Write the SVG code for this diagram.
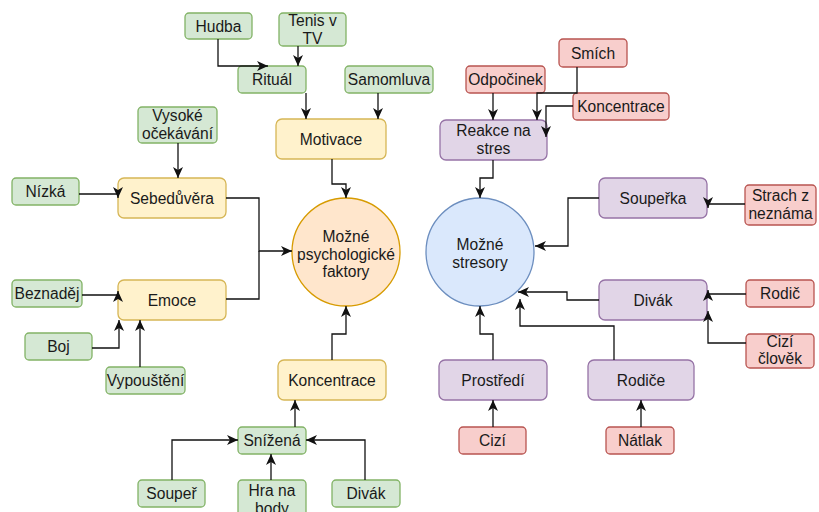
<svg xmlns="http://www.w3.org/2000/svg" width="819" height="512" viewBox="0 0 819 512">
<style>
rect{stroke-width:1.3}
.g{fill:#d5e8d4;stroke:#82b366}
.y{fill:#fff2cc;stroke:#d6b656}
.r{fill:#f8cecc;stroke:#b85450}
.p{fill:#e1d5e7;stroke:#9673a6}
text{font-family:"Liberation Sans",Arial,sans-serif;font-size:15.6px;fill:#1a1a1a;text-anchor:middle}
#edges path{fill:none;stroke:#111;stroke-width:1.3;marker-end:url(#a)}
#edges path.n{marker-end:none}
</style>
<defs>
<marker id="a" viewBox="0 0 11 10" refX="11" refY="5" markerWidth="11" markerHeight="10" markerUnits="userSpaceOnUse" orient="auto">
<path d="M0,0 L11,5 L0,10 L3,5 z" fill="#111"/>
</marker>
</defs>
<rect width="819" height="512" fill="#fff"/>

<g id="hudba"><rect class="g" x="185" y="13" width="67" height="26" rx="4"/><text x="218.5" y="31.5">Hudba</text></g>
<g id="tenis"><rect class="g" x="279" y="13" width="67" height="33" rx="4"/><text x="312.5" y="25.5">Tenis v</text><text x="312.5" y="43.5">TV</text></g>
<g id="ritual"><rect class="g" x="238" y="66" width="68" height="27" rx="4"/><text x="272" y="85">Rituál</text></g>
<g id="samomluva"><rect class="g" x="345" y="66" width="88" height="27" rx="4"/><text x="389" y="85">Samomluva</text></g>
<g id="vysoke"><rect class="g" x="138" y="107" width="79" height="36" rx="4"/><text x="177.5" y="121">Vysoké</text><text x="177.5" y="139">očekávání</text></g>
<g id="nizka"><rect class="g" x="12" y="178" width="67" height="27" rx="4"/><text x="45.5" y="197">Nízká</text></g>
<g id="beznadej"><rect class="g" x="12" y="280" width="70" height="27" rx="4"/><text x="47" y="299">Beznaděj</text></g>
<g id="boj"><rect class="g" x="25" y="333" width="67" height="27" rx="4"/><text x="58.5" y="352">Boj</text></g>
<g id="vypousteni"><rect class="g" x="106" y="367" width="79" height="27" rx="4"/><text x="145.5" y="386">Vypouštění</text></g>
<g id="snizena"><rect class="g" x="238" y="427" width="68" height="27" rx="4"/><text x="272" y="446">Snížená</text></g>
<g id="souper"><rect class="g" x="138" y="480" width="67" height="27" rx="4"/><text x="171.5" y="499">Soupeř</text></g>
<g id="hranabody"><rect class="g" x="238" y="480" width="68" height="38" rx="4"/><text x="272" y="496">Hra na</text><text x="272" y="514">body</text></g>
<g id="divak-green"><rect class="g" x="332" y="480" width="68" height="27" rx="4"/><text x="366" y="499">Divák</text></g>

<g id="motivace"><rect class="y" x="276" y="119" width="110" height="40" rx="6"/><text x="331" y="144.5">Motivace</text></g>
<g id="sebeduvera"><rect class="y" x="118" y="178" width="108" height="40" rx="6"/><text x="172" y="203.5">Sebedůvěra</text></g>
<g id="emoce"><rect class="y" x="118" y="280" width="108" height="40" rx="6"/><text x="172" y="305.5">Emoce</text></g>
<g id="koncentrace"><rect class="y" x="278" y="360" width="108" height="40" rx="6"/><text x="332" y="385.5">Koncentrace</text></g>

<g id="odpocinek"><rect class="r" x="466" y="66" width="79" height="27" rx="4"/><text x="505.5" y="85">Odpočinek</text></g>
<g id="smich"><rect class="r" x="559" y="39" width="68" height="28" rx="4"/><text x="593" y="58.5">Smích</text></g>
<g id="koncentrace-red"><rect class="r" x="573" y="93" width="96" height="27" rx="4"/><text x="621" y="112">Koncentrace</text></g>
<g id="strach"><rect class="r" x="745" y="185" width="71" height="40" rx="4"/><text x="780.5" y="201">Strach z</text><text x="780.5" y="219">neznáma</text></g>
<g id="rodic"><rect class="r" x="746" y="280" width="68" height="27" rx="4"/><text x="780" y="299">Rodič</text></g>
<g id="cizi-clovek"><rect class="r" x="746" y="334" width="68" height="34" rx="4"/><text x="780" y="347">Cizí</text><text x="780" y="364">člověk</text></g>
<g id="cizi"><rect class="r" x="459" y="427" width="67" height="27" rx="4"/><text x="492.5" y="446">Cizí</text></g>
<g id="natlak"><rect class="r" x="606" y="427" width="68" height="27" rx="4"/><text x="640" y="446">Nátlak</text></g>

<g id="reakce"><rect class="p" x="440" y="120" width="107" height="40" rx="6"/><text x="493.5" y="136">Reakce na</text><text x="493.5" y="154">stres</text></g>
<g id="souperka"><rect class="p" x="599" y="178" width="108" height="40" rx="6"/><text x="653" y="203.5">Soupeřka</text></g>
<g id="divak"><rect class="p" x="599" y="280" width="108" height="40" rx="6"/><text x="653" y="305.5">Divák</text></g>
<g id="prostredi"><rect class="p" x="439" y="360" width="108" height="40" rx="6"/><text x="493" y="385.5">Prostředí</text></g>
<g id="rodice"><rect class="p" x="588" y="360" width="106" height="40" rx="6"/><text x="641" y="385.5">Rodiče</text></g>

<g id="psych"><circle cx="346" cy="252" r="54" fill="#ffe6cc" stroke="#d79b00" stroke-width="1.3"/><text x="346" y="242">Možné</text><text x="346" y="259.5">psychologické</text><text x="346" y="277">faktory</text></g>
<g id="stresory"><circle cx="480" cy="252" r="54" fill="#dae8fc" stroke="#6c8ebf" stroke-width="1.3"/><text x="480" y="250">Možné</text><text x="480" y="268">stresory</text></g>

<g id="edges">
<path d="M218,39 V66 H268"/>
<path d="M298,46 V66"/>
<path d="M306,93 V119"/>
<path d="M378,93 V119"/>
<path d="M332,159 V184 H346 V198"/>
<path d="M178,143 V178"/>
<path d="M79,194 H118 V198"/>
<path d="M82,295 H118 V291"/>
<path d="M92,348 H119 V320"/>
<path d="M140,367 V320"/>
<path class="n" d="M226,299 H259 V251"/>
<path d="M226,198 H259 V251 H292"/>
<path d="M332,360 V334 H346 V306"/>
<path d="M295,427 V400"/>
<path d="M172,480 V440 H238"/>
<path d="M271,480 V454"/>
<path d="M365,480 V440 H306"/>
<path d="M493,93 V120"/>
<path d="M577,67 V93 H537 V120"/>
<path d="M573,106 H546 V137"/>
<path d="M493,160 V178 H480 V198"/>
<path d="M599,198 H568 V246 H535"/>
<path d="M745,204 H708 V208"/>
<path d="M599,300 H567 V292 H518"/>
<path d="M614,360 V326 H520 V299"/>
<path d="M493,360 V334 H480 V306"/>
<path d="M493,427 V400"/>
<path d="M641,427 V400"/>
<path d="M746,294 H708 V290"/>
<path d="M746,343 H708 V311"/>
</g>
</svg>
